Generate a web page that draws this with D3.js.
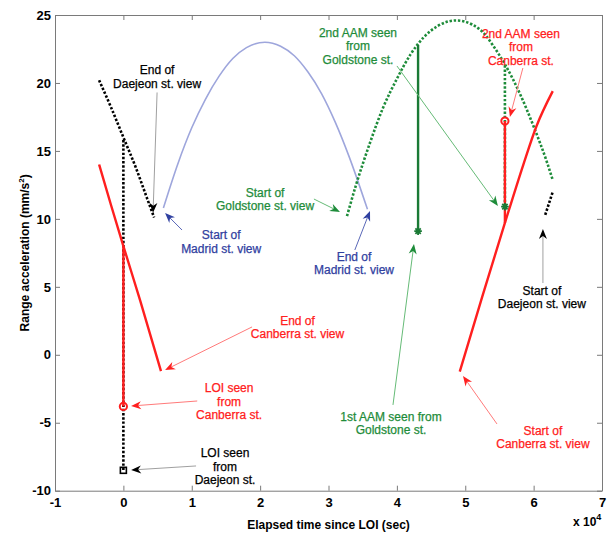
<!DOCTYPE html>
<html>
<head>
<meta charset="utf-8">
<script src="https://cdn.jsdelivr.net/npm/d3@7"></script>
<style>
body { margin: 0; background: #fff; }
svg { font-family: "Liberation Sans", Arial, sans-serif; }
</style>
</head>
<body>
<div id="chart"></div>
<script>
// Series, [elapsed sec, mm/s^2]
const daejeon1 = [[-3550, 20.2], [-1800, 18.2], [0, 16.0], [1800, 13.8], [3400, 11.6], [4500, 10.1]];
const daejeon2 = [[61700, 10.3], [62800, 12.0]];
const canberra1 = [[-3550, 14.0], [-1800, 11.0], [0, 8.0], [2450, 4.0], [5500, -1.2]];
const canberra2 = [[49200, -1.24], [52500, 4.3], [55800, 9.7], [58500, 14.0], [60400, 16.8], [62800, 19.4]];
const madrid = [[5850, 10.8], [8000, 14.1], [10000, 16.7], [12000, 18.8], [14000, 20.5], [16000, 21.8],
  [18000, 22.6], [20700, 23.0], [23000, 22.7], [25000, 22.0], [27000, 20.8], [29000, 19.2],
  [31000, 17.1], [33000, 14.6], [35700, 10.7]];
const goldstone = [[32700, 10.2], [34000, 12.45], [36000, 15.5], [38000, 18.2], [40000, 20.3], [42000, 22.1],
  [44000, 23.4], [46000, 24.2], [48700, 24.6], [51000, 24.3], [53000, 23.5], [54000, 22.8],
  [56000, 21.2], [58000, 19.2], [60000, 16.8], [62000, 14.1], [62800, 12.85]];

// vertical jumps at events
const loiDaejeon = [[0, 15.8], [0, -8.5]];
const loiCanberra = [[0, 8.0], [0, -3.8]];
const aam1Goldstone = [[43100, 22.8], [43100, 9.1]];
const aam2Goldstone = [[55800, 21.3], [55800, 10.9]];
const aam2Canberra = [[55800, 17.2], [55800, 9.7]];

const xTicks = [-10000, 0, 10000, 20000, 30000, 40000, 50000, 60000, 70000];
const yTicks = [-10, -5, 0, 5, 10, 15, 20, 25];

// annotations: text center, arrow start, arrow tip (data coords)
const notes = [
  { lines: ["End of", "Daejeon st. view"], c: "black", at: [4930, 20.96], from: [4930, 19.3], to: [4340, 10.45] },
  { lines: ["Start of", "Madrid st. view"], c: "blue", at: [14300, 8.82], from: [8580, 9.18], to: [6100, 10.43] },
  { lines: ["Start of", "Goldstone st. view"], c: "green", at: [20720, 11.94], from: [27870, 11.46], to: [31680, 10.51] },
  { lines: ["End of", "Madrid st. view"], c: "blue", at: [33730, 7.22], from: [33850, 7.71], to: [36070, 10.58] },
  { lines: ["2nd AAM seen", "from", "Goldstone st."], c: "green", at: [34310, 23.7], from: [40010, 21.25], to: [54780, 10.95] },
  { lines: ["2nd AAM seen", "from", "Canberra st."], c: "red", at: [58140, 23.61], from: [58430, 21.1], to: [56530, 17.5] },
  { lines: ["End of", "Canberra st. view"], c: "red", at: [25470, 2.51], from: [18820, 2.05], to: [6100, -1.12] },
  { lines: ["LOI seen", "from", "Canberra st."], c: "red", at: [15460, -2.44], from: [10800, -3.4], to: [1130, -3.77] },
  { lines: ["LOI seen", "from", "Daejeon st."], c: "black", at: [14860, -7.22], from: [10630, -8.18], to: [1130, -8.48] },
  { lines: ["1st AAM seen from", "Goldstone st."], c: "green", at: [39140, -4.55], from: [39430, -3.69], to: [42500, 8.15] },
  { lines: ["Start of", "Canberra st. view"], c: "red", at: [61360, -5.58], from: [54640, -5.09], to: [49670, -1.56] },
  { lines: ["Start of", "Daejeon st. view"], c: "black", at: [61210, 4.72], from: [61360, 5.28], to: [61360, 9.26] }
];

const width = 608, height = 536;
const plotLeft = 55, plotRight = 602, plotTop = 15, plotBottom = 490.7;

const textColor = { black: "#000", red: "#ff2020", green: "#1e8c3a", blue: "#3040a0" };
const shaftColor = { black: "#a0a0a0", red: "#ff7a7a", green: "#66bb77", blue: "#5a68b8" };

const svg = d3.select("#chart").append("svg")
  .attr("width", width)
  .attr("height", height);

const x = d3.scaleLinear().domain([-10000, 70000]).range([plotLeft, plotRight]);
const y = d3.scaleLinear().domain([-10, 25]).range([plotBottom, plotTop]);

// frame and inward ticks on all sides
const tick = 5;
svg.append("g").attr("transform", `translate(0,${plotBottom})`)
  .call(d3.axisBottom(x).tickValues(xTicks).tickSizeInner(-tick).tickSizeOuter(0).tickPadding(7).tickFormat(d => String(d / 10000)));
svg.append("g").attr("transform", `translate(0,${plotTop})`)
  .call(d3.axisTop(x).tickValues(xTicks).tickSizeInner(-tick).tickSizeOuter(0).tickFormat(""));
svg.append("g").attr("transform", `translate(${plotLeft},0)`)
  .call(d3.axisLeft(y).tickValues(yTicks).tickSizeInner(-tick).tickSizeOuter(0).tickPadding(4).tickFormat(d => String(d)));
svg.append("g").attr("transform", `translate(${plotRight},0)`)
  .call(d3.axisRight(y).tickValues(yTicks).tickSizeInner(-tick).tickSizeOuter(0).tickFormat(""));

svg.selectAll(".domain").attr("stroke", "#7a7a7a");
svg.selectAll(".tick line").attr("stroke", "#7a7a7a");
svg.selectAll(".tick text").attr("font-size", 13).attr("font-weight", "bold")
  .attr("font-family", "Liberation Sans, Arial, sans-serif").attr("fill", "#000");

// axis labels
svg.append("text")
  .attr("x", (plotLeft + plotRight) / 2).attr("y", 529)
  .attr("text-anchor", "middle").attr("font-size", 12).attr("font-weight", "bold")
  .text("Elapsed time since LOI (sec)");
const xe = svg.append("text").attr("x", 573).attr("y", 526)
  .attr("font-size", 12).attr("font-weight", "bold");
xe.append("tspan").text("x 10");
xe.append("tspan").attr("dy", -6).attr("font-size", 9).text("4");

const yl = svg.append("text")
  .attr("transform", `translate(25,${(plotTop + plotBottom) / 2}) rotate(-90)`)
  .attr("text-anchor", "middle").attr("dy", "0.35em")
  .attr("font-size", 12).attr("font-weight", "bold");
yl.append("tspan").text("Range acceleration (mm/s");
yl.append("tspan").attr("dy", -5).attr("font-size", 8).text("2");
yl.append("tspan").attr("dy", 5).text(")");

const line = d3.line().x(d => x(d[0])).y(d => y(d[1]));
const curve = d3.line().x(d => x(d[0])).y(d => y(d[1])).curve(d3.curveMonotoneX);

function draw(data, gen, color, w, dash) {
  svg.append("path").datum(data)
    .attr("d", gen)
    .attr("fill", "none")
    .attr("stroke", color)
    .attr("stroke-width", w)
    .attr("stroke-dasharray", dash || null);
}

draw(madrid, curve, "#9ea6dc", 1.6);
draw(goldstone, curve, "#1e8c3a", 2.6, "2.4,1.8");
draw(aam2Goldstone, line, "#1e8c3a", 2.6, "2.4,1.8");
draw(aam1Goldstone, line, "#1a7a35", 2.4);
draw(loiDaejeon, line, "#000", 2.6, "2.4,1.8");
draw(daejeon1, curve, "#000", 2.6, "2.4,1.8");
draw(daejeon2, line, "#000", 2.6, "2.4,1.8");
draw(canberra1, curve, "#ff1f1f", 2.4);
draw(canberra2, curve, "#ff1f1f", 2.4);
draw(loiCanberra, line, "#ff1f1f", 2.4);
draw(aam2Canberra, line, "#ff1f1f", 2.4);

// markers
const lastOf = a => a[a.length - 1];
function circleAt(p) {
  svg.append("circle").attr("cx", x(p[0])).attr("cy", y(p[1])).attr("r", 3.6)
    .attr("fill", "none").attr("stroke", "#ff1f1f").attr("stroke-width", 2);
}
function squareAt(p) {
  svg.append("rect").attr("x", x(p[0]) - 3).attr("y", y(p[1]) - 3).attr("width", 6).attr("height", 6)
    .attr("fill", "none").attr("stroke", "#000").attr("stroke-width", 1.6);
}
function starAt(p) {
  const s = 3.8, cx = x(p[0]), cy = y(p[1]);
  const d = `M${cx - s},${cy}H${cx + s}M${cx},${cy - s}V${cy + s}` +
    `M${cx - s * 0.7},${cy - s * 0.7}L${cx + s * 0.7},${cy + s * 0.7}M${cx - s * 0.7},${cy + s * 0.7}L${cx + s * 0.7},${cy - s * 0.7}`;
  svg.append("path").attr("d", d).attr("stroke", "#1a7a35").attr("stroke-width", 1.8).attr("fill", "none");
}
circleAt(lastOf(loiCanberra));
squareAt(lastOf(loiDaejeon));
circleAt(aam2Canberra[0]);
starAt(lastOf(aam1Goldstone));
starAt(lastOf(aam2Goldstone));

// annotations with arrows
notes.forEach(n => {
  const fx = x(n.from[0]), fy = y(n.from[1]), tx = x(n.to[0]), ty = y(n.to[1]);
  const a = Math.atan2(ty - fy, tx - fx);
  const ux = Math.cos(a), uy = Math.sin(a), px = -uy, py = ux;
  const L = 10, hw = 4, notch = 3;
  svg.append("line")
    .attr("x1", fx).attr("y1", fy)
    .attr("x2", tx - (L - notch) * ux).attr("y2", ty - (L - notch) * uy)
    .attr("stroke", shaftColor[n.c]).attr("stroke-width", 1);
  const pts = [
    [tx, ty],
    [tx - L * ux + hw * px, ty - L * uy + hw * py],
    [tx - (L - notch) * ux, ty - (L - notch) * uy],
    [tx - L * ux - hw * px, ty - L * uy - hw * py]
  ];
  svg.append("path").attr("d", "M" + pts.join("L") + "Z").attr("fill", textColor[n.c]);

  const t = svg.append("text")
    .attr("text-anchor", "middle")
    .attr("font-size", 12)
    .attr("fill", textColor[n.c])
    .attr("stroke", textColor[n.c])
    .attr("stroke-width", 0.25);
  n.lines.forEach((s, i) => {
    t.append("tspan").attr("x", x(n.at[0])).attr("y", y(n.at[1]) + 4.3 + i * 13.3).text(s);
  });
});
</script>
</body>
</html>
